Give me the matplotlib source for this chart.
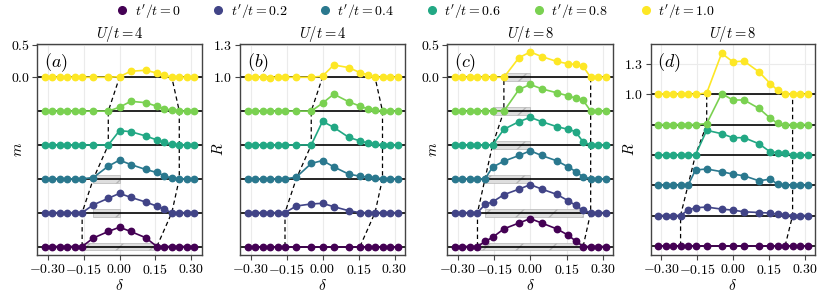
import numpy as np
import matplotlib
matplotlib.use("Agg")
import matplotlib.pyplot as plt
from matplotlib.patches import Rectangle
from matplotlib.lines import Line2D

plt.rcParams.update({
    "font.family": "serif",
    "font.serif": ["cmr10", "DejaVu Serif"],
    "mathtext.fontset": "cm",
    "axes.formatter.use_mathtext": True,
})

# ---------------- data ----------------
delta = [-0.3125, -0.28125, -0.25, -0.21875, -0.1875, -0.15625, -0.109375, -0.046875,
         0.0, 0.046875, 0.109375, 0.15625, 0.1875, 0.21875, 0.25, 0.28125, 0.3125]
tprime = [0, 0.2, 0.4, 0.6, 0.8, 1.0]
tp_labels = ["$t'/t=0$", "$t'/t=0.2$", "$t'/t=0.4$", "$t'/t=0.6$", "$t'/t=0.8$", "$t'/t=1.0$"]
colors = ["#440154", "#414487", "#2a788e", "#22a884", "#7ad151", "#fde725"]

# panel (a): m, U/t=4   (one list per t'/t, order 0 ... 1.0)
m_U4 = [
    [0, 0, 0, 0, 0, 0, 0.13, 0.23, 0.295, 0.23, 0.135, 0, 0, 0, 0, 0, 0],
    [0, 0, 0, 0, 0, 0, 0.12, 0.22, 0.295, 0.235, 0.163, 0.10, 0.05, 0, 0, 0, 0],
    [0, 0, 0, 0, 0, 0, 0.02, 0.194, 0.286, 0.219, 0.143, 0.097, 0.046, 0.01, 0, 0, 0],
    [0, 0, 0, 0, 0, 0, 0, 0, 0.219, 0.204, 0.138, 0.077, 0.04, 0.01, 0, 0, 0],
    [0, 0, 0, 0, 0, 0, 0, 0, 0.06, 0.15, 0.13, 0.075, 0.035, 0.015, 0, 0, 0],
    [0, 0, 0, 0, 0, 0, 0, 0, 0.01, 0.092, 0.108, 0.065, 0.032, 0, 0, 0, 0],
]
# panel (b): R, U/t=4
R_U4 = [
    [1, 1, 1, 1, 1, 1, 1, 1, 1, 1, 1, 1, 1, 1, 1, 1, 1],
    [1, 1, 1, 1, 1, 1, 1.061, 1.08, 1.086, 1.055, 1.018, 1, 1, 1, 1, 1, 1],
    [1, 1, 1, 1, 1, 1, 1.015, 1.141, 1.168, 1.11, 1.043, 1.024, 1.015, 1.01, 1, 1, 1],
    [1, 1, 1, 1, 1, 1, 1, 1, 1.217, 1.162, 1.07, 1.037, 1.02, 1.01, 1, 1, 1],
    [1, 1.005, 1, 1, 1, 1, 1, 1, 1.073, 1.156, 1.086, 1.046, 1.021, 1.01, 1, 1, 1],
    [1, 1.005, 1, 0.997, 1, 1, 1, 1, 1.01, 1.113, 1.089, 1.043, 1.024, 1, 1, 1, 1],
]
# panel (c): m, U/t=8
m_U8 = [
    [0, 0, 0, 0, 0.077, 0.14, 0.27, 0.36, 0.427, 0.36, 0.27, 0.175, 0.085, 0, 0, 0, 0],
    [0, 0, 0, 0, 0.125, 0.165, 0.275, 0.36, 0.429, 0.362, 0.28, 0.184, 0.112, 0.036, 0, 0, 0],
    [0, 0, 0, 0, 0, 0.179, 0.27, 0.357, 0.429, 0.357, 0.276, 0.184, 0.112, 0.03, 0, 0, 0],
    [0, 0, 0, 0, 0, 0, 0.24, 0.357, 0.423, 0.357, 0.281, 0.24, 0.204, 0.046, 0, 0, 0],
    [0, 0, 0, 0, 0, 0, 0, 0.332, 0.408, 0.342, 0.281, 0.235, 0.199, 0.168, 0, 0, 0],
    [0, 0, 0, 0, 0, 0, 0, 0.30, 0.388, 0.318, 0.243, 0.207, 0.197, 0.166, 0, 0, 0],
]
# panel (d): R, U/t=8
R_U8 = [
    [1, 1, 1, 1, 1, 1, 1, 1, 1, 1, 1, 1, 1, 1, 1, 1, 1],
    [1, 1, 1, 1, 1.054, 1.078, 1.084, 1.064, 1.054, 1.037, 1.03, 1.024, 1.013, 1.007, 1, 1, 1],
    [1, 1, 1, 1, 1, 1.152, 1.162, 1.135, 1.111, 1.094, 1.044, 1.061, 1.01, 1, 1, 1, 1],
    [1, 1, 1, 1, 1, 1, 1.246, 1.212, 1.172, 1.172, 1.111, 1.03, 1.024, 1.017, 1, 1, 1],
    [1, 1, 1, 1, 1, 1, 1.01, 1.31, 1.246, 1.246, 1.162, 1.064, 1.013, 1, 1, 1, 1],
    [1, 1.006, 1.006, 1, 1, 1, 1.013, 1.41, 1.325, 1.332, 1.224, 1.108, 1.04, 1.007, 1, 1, 1],
]

# phase boundaries (per t'/t)
left_U4 = [-0.15625, -0.15625, -0.109375, -0.046875, -0.046875, 0.0]
right_U4 = [0.15625, 0.21875, 0.25, 0.25, 0.25, 0.21875]
left_U8 = [-0.21875, -0.21875, -0.1875, -0.15625, -0.109375, -0.109375]
right_U8 = [0.21875, 0.25, 0.25, 0.25, 0.25, 0.25]

# hatched regions (per t'/t), None = no region
hatch_U4 = [(-0.15625, 0.15), (-0.109375, 0.0), (-0.109375, 0.0), None, None, None]
hatch_U8 = [(-0.21875, 0.21875), (-0.1875, 0.21875), (-0.1875, 0.0),
            (-0.15625, 0.0), (-0.15625, 0.0), (-0.109375, 0.0)]

xticks = [-0.30, -0.15, 0.0, 0.15, 0.30]
xticklabels = ["$-0.30$", "$-0.15$", "$0.00$", "$0.15$", "$0.30$"]

panels = [
    dict(vals=m_U4, base=0.0, step=0.518, ylim=(-2.72, 0.505), yt=[0.0, 0.5], ytl=["$0.0$", "$0.5$"],
         ylabel="$m$", title="$U/t=4$", tag="$(a)$", left=left_U4, right=right_U4, hatch=hatch_U4,
         pos=[37.3, 201.7], ylx=25.0),
    dict(vals=R_U4, base=1.0, step=0.311, ylim=(-0.633, 1.303), yt=[1.0, 1.3], ytl=["$1.0$", "$1.3$"],
         ylabel="$R$", title="$U/t=4$", tag="$(b)$", left=left_U4, right=right_U4, hatch=None,
         pos=[240.0, 405.0], ylx=226.0),
    dict(vals=m_U8, base=0.0, step=0.518, ylim=(-2.72, 0.505), yt=[0.0, 0.5], ytl=["$0.0$", "$0.5$"],
         ylabel="$m$", title="$U/t=8$", tag="$(c)$", left=left_U8, right=right_U8, hatch=hatch_U8,
         pos=[447.3, 613.3], ylx=440.0),
    dict(vals=R_U8, base=1.0, step=0.303, ylim=(-0.607, 1.5), yt=[1.0, 1.3], ytl=["$1.0$", "$1.3$"],
         ylabel="$R$", title="$U/t=8$", tag="$(d)$", left=left_U8, right=right_U8, hatch=None,
         pos=[650.7, 815.0], ylx=637.0),
]

W, H = 830, 304
fig = plt.figure(figsize=(W / 100, H / 100), dpi=100)
ax_top, ax_bot = 44.3, 255.0
spine_c = "#444444"
x = np.array(delta)

for p in panels:
    x0, x1 = p["pos"]
    ax = fig.add_axes([x0 / W, (H - ax_bot) / H, (x1 - x0) / W, (ax_bot - ax_top) / H])
    ax.set_xlim(-0.34375, 0.34375)
    ax.set_ylim(*p["ylim"])
    for xv in xticks:
        ax.axvline(xv, color="#ebebeb", lw=0.8, zorder=0)
    for yv in p["yt"]:
        ax.axhline(yv, color="#ebebeb", lw=0.8, zorder=0)
    n = len(tprime)
    for i in range(n):
        k = n - 1 - i
        off = p["base"] - k * p["step"]
        if p["hatch"] is not None and p["hatch"][i] is not None:
            h0, h1 = p["hatch"][i]
            ax.add_patch(Rectangle((h0, off - 0.06), h1 - h0, 0.12, facecolor="#dedede",
                                   edgecolor="#b5b5b5", hatch="/", lw=0.5, zorder=1))
        ax.axhline(off, color="black", lw=1.2, zorder=2)
        y = np.array(p["vals"][i]) - p["base"] + off
        ax.plot(x, y, "-o", color=colors[i], ms=4.6, lw=1.2, zorder=4,
                label=tp_labels[i])
    offs = [p["base"] - (n - 1 - i) * p["step"] for i in range(n)]
    ax.plot(p["left"], offs, color="black", lw=0.9, ls=(0, (3.5, 2.5)), zorder=3)
    ax.plot(p["right"], offs, color="black", lw=0.9, ls=(0, (3.5, 2.5)), zorder=3)

    ax.set_xticks(xticks)
    ax.set_xticklabels(xticklabels)
    ax.set_yticks(p["yt"])
    ax.set_yticklabels(p["ytl"])
    ax.tick_params(labelsize=10, length=3.5, width=0.8, color=spine_c, pad=2)
    for s in ax.spines.values():
        s.set_color(spine_c)
        s.set_linewidth(1.0)
    ax.set_xlabel(r"$\delta$", fontsize=11, labelpad=1)
    ax.set_ylabel(p["ylabel"], fontsize=11)
    ax.yaxis.set_label_coords((p["ylx"] - x0) / (x1 - x0), 0.5)
    ax.set_title(p["title"], fontsize=10.5, pad=4)
    ax.text(0.04, 0.965, p["tag"], transform=ax.transAxes, fontsize=13, va="top", ha="left")

hs = [Line2D([], [], ls="none", marker="o", ms=5.5, color=c) for c in colors]
fig.legend(hs, tp_labels, loc="upper center", bbox_to_anchor=(0.5, 1.035), ncol=6,
           frameon=False, fontsize=10, handletextpad=0.4, columnspacing=2.2, handlelength=1.0)

fig.savefig("out.png", dpi=100)
